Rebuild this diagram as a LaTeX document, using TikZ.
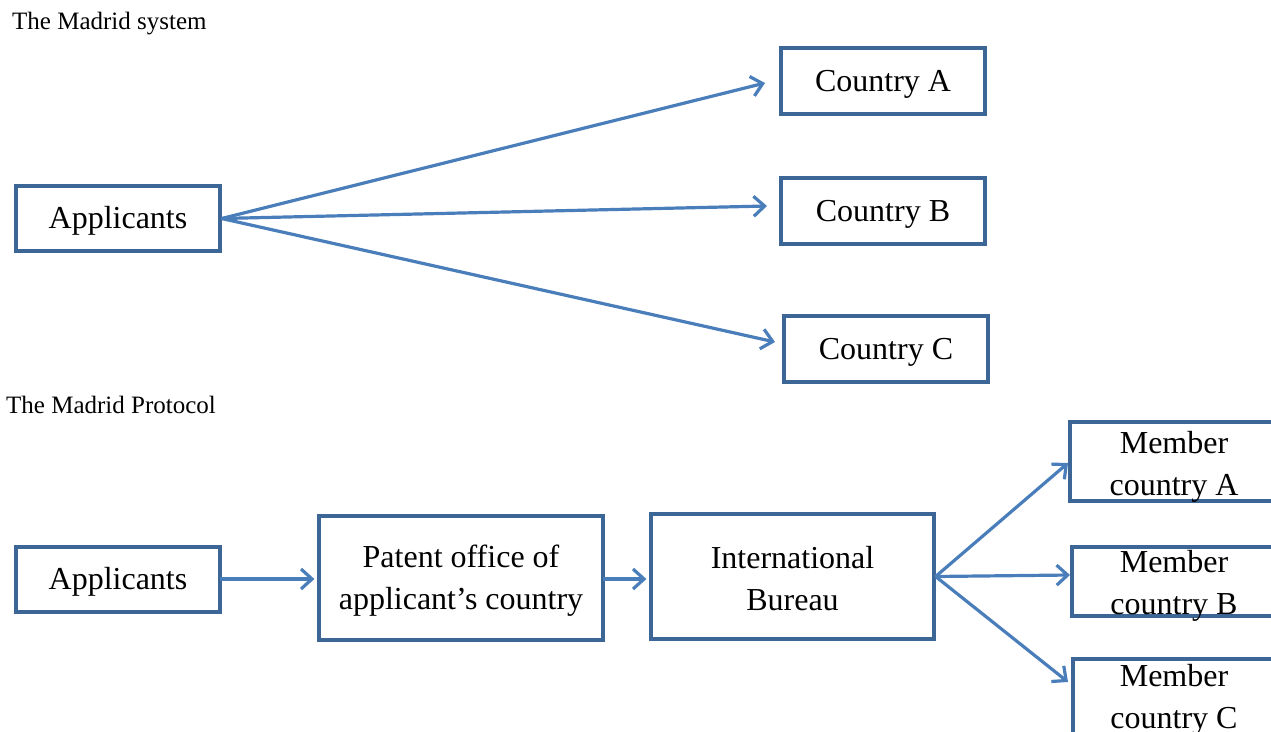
\documentclass[tikz,border=0pt]{standalone}
\usepackage{fontspec}
\setmainfont{Liberation Serif}
\usetikzlibrary{arrows.meta}
\definecolor{boxline}{HTML}{3C6696}
\definecolor{arrowline}{HTML}{4A7EBB}
\tikzset{
  box/.style={draw=boxline, line width=3.2pt, rectangle, inner sep=0pt},
  conn/.style={draw=arrowline, line width=3.2pt, -{Straight Barb[length=11pt,width=20pt,line width=3.2pt]}},
  title/.style={anchor=base west, inner sep=0pt, font=\fontsize{25}{28}\selectfont},
  lbl/.style={align=center, inner sep=0pt, font=\fontsize{32}{42}\selectfont}
}
\begin{document}
\begin{tikzpicture}[x=1pt,y=-1pt]
\useasboundingbox (0,0) rectangle (1271,731);
\begin{scope}
\clip (0,0) rectangle (1271,731);
\node[title] (t1) at (12,29) {The Madrid system};
\node[title] (t2) at (6,413) {The Madrid Protocol};
% Madrid system
\node[box, minimum width=204pt, minimum height=65pt] (app1) at (118,218.5) {};
\node[box, minimum width=204pt, minimum height=66pt] (ca) at (883,81) {};
\node[box, minimum width=204pt, minimum height=66pt] (cb) at (883,211) {};
\node[box, minimum width=204pt, minimum height=66pt] (cc) at (886,349) {};
\node[lbl] (tapp1) at ([yshift=-2.5pt]app1.center) {Applicants};
\node[lbl] (tca) at ([yshift=-3pt]ca.center) {Country A};
\node[lbl] (tcb) at ([yshift=-3pt]cb.center) {Country B};
\node[lbl] (tcc) at ([yshift=-3pt]cc.center) {Country C};
\coordinate (ea) at (765,83);
\coordinate (eb) at (767,206);
\coordinate (ec) at (775,342);
\draw[conn] (app1.east) -- (ea);
\draw[conn] (app1.east) -- (eb);
\draw[conn] (app1.east) -- (ec);
% Madrid Protocol
\node[box, minimum width=204pt, minimum height=65pt] (app2) at (118,579.5) {};
\node[box, minimum width=284pt, minimum height=124pt] (po) at (461,578) {};
\node[box, minimum width=283pt, minimum height=125pt] (ib) at (792.5,576.5) {};
\node[lbl] (tapp2) at ([yshift=-2.5pt]app2.center) {Applicants};
\node[lbl] (tpo) at ([yshift=-3pt]po.center) {Patent office of\\applicant’s country};
\node[lbl] (tib) at ([yshift=-2pt]ib.center) {International\\Bureau};
\node[box, minimum width=220pt, minimum height=79pt] (ma) at (1180,461.5) {};
\node[box, minimum width=220pt, minimum height=69pt] (mb) at (1182,581.5) {};
\node[box, minimum width=220pt, minimum height=90pt] (mc) at (1183,704) {};
\node[lbl] (la) at (1174,467) {Member\\country A};
\node[lbl] (lb) at (1174,586) {Member\\country B};
\node[lbl] (lc) at (1174,700) {Member\\country C};
\coordinate (s1) at (220,579);
\coordinate (s2) at (603,579);
\draw[conn] (s1) -- ([xshift=-3pt]s1 -| po.west);
\draw[conn] (s2) -- ([xshift=-3pt]s2 -| ib.west);
\coordinate (sa) at (1068,463);
\coordinate (sb) at (1070,575);
\coordinate (sc) at (1068,682);
\draw[conn] (ib.east) -- (sa);
\draw[conn] (ib.east) -- (sb);
\draw[conn] (ib.east) -- (sc);
\end{scope}
\end{tikzpicture}
\end{document}
